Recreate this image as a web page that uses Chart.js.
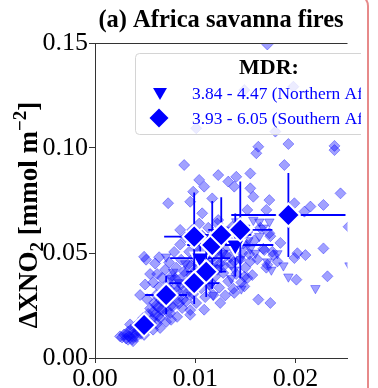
<!DOCTYPE html>
<html>
<head>
<meta charset="utf-8">
<script src="https://cdn.jsdelivr.net/npm/chart.js@4.4.1/dist/chart.umd.min.js"></script>
<style>
    html, body { margin: 0; padding: 0; background: #fff; overflow: hidden; width: 378px; height: 388px; }
    .card {
        position: absolute; left: -10px; top: -6px; width: 379px; height: 394px;
        box-sizing: border-box;
        border: 2px solid #e78a8a; border-bottom: none; border-top-right-radius: 12px;
    }
    #chart { position: absolute; left: 0; top: 0; }
</style>
</head>
<body>
<div class="card"></div>
<canvas id="chart" width="361" height="388"></canvas>
<script>
// axis ticks
const xTicks = [0.00, 0.01, 0.02];
const yTicks = [0.00, 0.05, 0.10, 0.15];

// bin means, MDR 3.84 - 4.47 (Northern Africa)
const northMeanX = [0.0105, 0.0140];
const northMeanY = [0.0476, 0.0538];
const northErrX = [0.0030, 0.0038];
const northErrY = [0.0120, 0.0150];

// bin means, MDR 3.93 - 6.05 (Southern Africa)
const southMeanX = [0.0049, 0.0071, 0.0099, 0.0111, 0.0099, 0.0117, 0.0126, 0.0145, 0.0193];
const southMeanY = [0.0157, 0.0300, 0.0357, 0.0411, 0.0578, 0.0538, 0.0586, 0.0610, 0.0681];
const southErrX = [0.0012, 0.0021, 0.0025, 0.0020, 0.0030, 0.0025, 0.0030, 0.0032, 0.0057];
const southErrY = [0.0040, 0.0090, 0.0100, 0.0120, 0.0210, 0.0210, 0.0180, 0.0230, 0.0200];

// individual fires, northern
const northPoints = [
    [0.0071,0.0482],[0.0076,0.0380],[0.0078,0.0410],[0.0084,0.0360],[0.0090,0.0450],[0.0096,0.0300],
    [0.0101,0.0520],[0.0106,0.0390],[0.0110,0.0470],[0.0115,0.0340],[0.0118,0.0300],[0.0119,0.0560],
    [0.0123,0.0430],[0.0128,0.0500],[0.0132,0.0610],[0.0136,0.0380],[0.0139,0.0420],[0.0141,0.0650],
    [0.0145,0.0470],[0.0146,0.0330],[0.0150,0.0620],[0.0153,0.0560],[0.0155,0.0520],[0.0158,0.0657],
    [0.0160,0.0500],[0.0164,0.0649],[0.0164,0.0580],[0.0168,0.0620],[0.0172,0.0459],[0.0174,0.0649],
    [0.0176,0.0420],[0.0182,0.0498],[0.0188,0.0440],[0.0193,0.0387],[0.0220,0.0332],[0.0254,0.0440]
];

// individual fires, southern
const southPoints = [
    [0.0172,0.1493],[0.0101,0.1094],[0.0149,0.1276],[0.0198,0.1292],[0.0180,0.1078],[0.0163,0.1006],
    [0.0193,0.1019],[0.0239,0.1010],[0.0161,0.0975],[0.0239,0.0990],[0.0089,0.0919],[0.0189,0.0919],
    [0.0123,0.0871],[0.0141,0.0863],[0.0155,0.0879],[0.0104,0.0848],[0.0109,0.0816],[0.0133,0.0840],
    [0.0139,0.0816],[0.0098,0.0792],[0.0155,0.0808],[0.0158,0.0768],[0.0245,0.0784],[0.0073,0.0737],
    [0.0095,0.0744],[0.0117,0.0760],[0.0174,0.0752],[0.0199,0.0737],[0.0215,0.0721],[0.0228,0.0729],
    [0.0107,0.0689],[0.0152,0.0705],[0.0171,0.0705],[0.0209,0.0697],[0.0123,0.0657],[0.0085,0.0610],
    [0.0174,0.0594],[0.0202,0.0499],[0.0228,0.0522],[0.0177,0.0506],[0.0049,0.0482],[0.0253,0.0625],
    [0.0051,0.0468],[0.0155,0.0460],[0.0172,0.0444],[0.0182,0.0460],[0.0199,0.0476],[0.0210,0.0490],
    [0.0232,0.0389],[0.0201,0.0373],[0.0163,0.0278],[0.0175,0.0262],[0.0139,0.0310],[0.0149,0.0341],
    [0.0152,0.0381],[0.0109,0.0230],[0.0125,0.0262],[0.0095,0.0206],[0.0076,0.0182],[0.0065,0.0143],
    [0.0032,0.0111],[0.0025,0.0103],[0.0038,0.0080],[0.0033,0.0087],[0.0178,0.0490],[0.0185,0.0548],
    [0.0169,0.0514],[0.0149,0.0387],
    [0.0027,0.0098],[0.0029,0.0112],[0.0031,0.0093],[0.0033,0.0125],[0.0034,0.0104],[0.0036,0.0136],
    [0.0037,0.0089],[0.0039,0.0118],[0.0040,0.0150],[0.0041,0.0100],[0.0043,0.0132],[0.0044,0.0168],
    [0.0046,0.0115],[0.0047,0.0146],[0.0048,0.0190],[0.0050,0.0127],[0.0051,0.0172],[0.0053,0.0210],
    [0.0054,0.0152],[0.0055,0.0236],[0.0057,0.0185],[0.0058,0.0135],[0.0059,0.0262],
    [0.0060,0.0205],[0.0061,0.0300],[0.0062,0.0164],[0.0063,0.0242],[0.0064,0.0338],[0.0065,0.0190],
    [0.0066,0.0275],[0.0067,0.0382],[0.0068,0.0226],[0.0069,0.0318],[0.0070,0.0420],[0.0071,0.0172],
    [0.0072,0.0262],[0.0073,0.0355],[0.0074,0.0455],[0.0075,0.0214],[0.0076,0.0296],[0.0077,0.0392],
    [0.0078,0.0248],[0.0079,0.0505],[0.0080,0.0335],[0.0081,0.0430],[0.0082,0.0196],[0.0083,0.0282],
    [0.0084,0.0372],[0.0085,0.0540],[0.0086,0.0468],[0.0087,0.0238],[0.0088,0.0318],[0.0089,0.0412],
    [0.0090,0.0575],[0.0091,0.0270],[0.0092,0.0352],[0.0093,0.0446],[0.0094,0.0506],[0.0095,0.0228],
    [0.0096,0.0395],[0.0097,0.0610],[0.0098,0.0305],[0.0099,0.0478],[0.0100,0.0545],[0.0101,0.0262],
    [0.0102,0.0425],[0.0103,0.0372],[0.0104,0.0640],[0.0105,0.0510],[0.0106,0.0332],[0.0107,0.0582],
    [0.0108,0.0455],[0.0110,0.0290],[0.0111,0.0395],[0.0112,0.0532],[0.0113,0.0620],[0.0114,0.0350],
    [0.0115,0.0470],[0.0117,0.0430],[0.0118,0.0300],[0.0119,0.0565],[0.0120,0.0388],[0.0121,0.0505],
    [0.0122,0.0640],[0.0124,0.0335],[0.0125,0.0450],[0.0126,0.0545],[0.0128,0.0405],[0.0129,0.0600],
    [0.0130,0.0298],[0.0131,0.0488],[0.0133,0.0365],[0.0134,0.0560],[0.0136,0.0445],[0.0137,0.0625],
    [0.0138,0.0330],[0.0140,0.0512],[0.0141,0.0400],[0.0143,0.0585],[0.0145,0.0470],[0.0146,0.0360],
    [0.0148,0.0545],[0.0150,0.0430],[0.0152,0.0600],[0.0154,0.0495],[0.0157,0.0395],[0.0159,0.0560],
    [0.0162,0.0470],[0.0165,0.0620],[0.0168,0.0520],[0.0171,0.0430],[0.0175,0.0580],
    [0.0035,0.0160],[0.0038,0.0100],[0.0042,0.0120],[0.0045,0.0155],[0.0049,0.0110],[0.0052,0.0140],
    [0.0056,0.0165],[0.0058,0.0220],[0.0061,0.0250],[0.0063,0.0200],[0.0066,0.0230],[0.0068,0.0270],
    [0.0070,0.0300],[0.0072,0.0220],[0.0074,0.0330],[0.0076,0.0250],[0.0078,0.0290],[0.0080,0.0380],
    [0.0082,0.0320],[0.0084,0.0260],[0.0086,0.0350],[0.0088,0.0280],[0.0090,0.0400],[0.0092,0.0310],
    [0.0094,0.0360],[0.0096,0.0440],[0.0098,0.0340],[0.0100,0.0400],[0.0102,0.0480],[0.0104,0.0350],
    [0.0106,0.0420],[0.0108,0.0380],[0.0110,0.0460],[0.0112,0.0410],[0.0114,0.0500],[0.0116,0.0360],
    [0.0118,0.0450],[0.0120,0.0520],[0.0122,0.0420],[0.0124,0.0480],[0.0127,0.0500],[0.0129,0.0440],
    [0.0132,0.0530],[0.0135,0.0480],[0.0139,0.0460],[0.0142,0.0550],[0.0147,0.0500],[0.0151,0.0540],
    [0.0045,0.0300],[0.0050,0.0350],[0.0052,0.0280],[0.0055,0.0400],[0.0058,0.0360],[0.0060,0.0450],
    [0.0062,0.0400],[0.0064,0.0480]
];

const BLUE = '#0000ff';
const FADED = 'rgba(0, 0, 255, 0.37)';
const AXIS = '#333';
const SERIF = '"Liberation Serif", "Times New Roman", serif';

function toXY(xs, ys) {
    return xs.map((x, i) => ({ x: x, y: ys[i] }));
}

// error bars are drawn just before their own markers
const errorBars = {
    id: 'errorBars',
    beforeDatasetDraw(chart, args) {
        const ds = chart.data.datasets[args.index];
        if (!ds.errX) return;
        const { ctx, chartArea: a, scales: { x, y } } = chart;
        ctx.save();
        ctx.beginPath();
        ctx.rect(a.left, a.top, a.right - a.left, a.bottom - a.top);
        ctx.clip();
        ctx.strokeStyle = BLUE;
        ctx.lineWidth = 1.8;
        ds.data.forEach((p, i) => {
            const px = x.getPixelForValue(p.x);
            const py = y.getPixelForValue(p.y);
            ctx.beginPath();
            ctx.moveTo(x.getPixelForValue(p.x - ds.errX[i]), py);
            ctx.lineTo(x.getPixelForValue(p.x + ds.errX[i]), py);
            ctx.moveTo(px, y.getPixelForValue(p.y - ds.errY[i]));
            ctx.lineTo(px, y.getPixelForValue(p.y + ds.errY[i]));
            ctx.stroke();
        });
        ctx.restore();
    }
};

function triangleDown(ctx, cx, cy, r) {
    ctx.beginPath();
    ctx.moveTo(cx, cy + r);
    ctx.lineTo(cx - r * 0.866, cy - r * 0.5);
    ctx.lineTo(cx + r * 0.866, cy - r * 0.5);
    ctx.closePath();
}

function diamond(ctx, cx, cy, r) {
    ctx.beginPath();
    ctx.moveTo(cx, cy - r);
    ctx.lineTo(cx + r, cy);
    ctx.lineTo(cx, cy + r);
    ctx.lineTo(cx - r, cy);
    ctx.closePath();
}

// title, y label, top spine and the legend box
const decorations = {
    id: 'decorations',
    afterDraw(chart) {
        const { ctx, chartArea: a } = chart;
        ctx.save();

        ctx.strokeStyle = AXIS;
        ctx.lineWidth = 1;
        ctx.beginPath();
        ctx.moveTo(a.left, a.top + 0.5);
        ctx.lineTo(a.right, a.top + 0.5);
        ctx.stroke();

        ctx.fillStyle = '#000';
        ctx.textAlign = 'center';
        ctx.textBaseline = 'alphabetic';
        ctx.font = `bold 24.5px ${SERIF}`;
        ctx.fillText('(a) Africa savanna fires', 221, 27);

        // y label with sub/superscripts
        ctx.save();
        ctx.translate(37, 215);
        ctx.rotate(-Math.PI / 2);
        ctx.textAlign = 'left';
        const big = `bold 27px ${SERIF}`;
        const small = `bold 19px ${SERIF}`;
        const parts = [['\u0394XNO', big, 0], ['2', small, 6], [' [mmol m', big, 0], ['\u22122', small, -11], [']', big, 0]];
        let total = 0;
        parts.forEach(p => { ctx.font = p[1]; total += ctx.measureText(p[0]).width; });
        let cx = -total / 2;
        parts.forEach(p => {
            ctx.font = p[1];
            ctx.fillText(p[0], cx, p[2]);
            cx += ctx.measureText(p[0]).width;
        });
        ctx.restore();

        // legend
        ctx.fillStyle = 'rgba(255, 255, 255, 0.8)';
        ctx.strokeStyle = '#d4d4d4';
        ctx.lineWidth = 1;
        ctx.beginPath();
        ctx.roundRect(135.5, 53.5, 280, 81, 4);
        ctx.fill();
        ctx.stroke();

        ctx.fillStyle = '#000';
        ctx.textAlign = 'center';
        ctx.font = `bold 22px ${SERIF}`;
        ctx.fillText('MDR:', 269, 74);

        ctx.fillStyle = BLUE;
        triangleDown(ctx, 160, 92, 8);
        ctx.fill();
        diamond(ctx, 159, 118, 9.5);
        ctx.fill();

        ctx.textAlign = 'left';
        ctx.font = `17.4px ${SERIF}`;
        ctx.fillText('3.84 - 4.47 (Northern Africa)', 192, 99);
        ctx.fillText('3.93 - 6.05 (Southern Africa)', 192, 124);

        ctx.restore();
    }
};

const tickFont = { family: SERIF, size: 26 };

new Chart(document.getElementById('chart'), {
    type: 'scatter',
    data: {
        datasets: [
            {
                label: 'Southern Africa mean',
                data: toXY(southMeanX, southMeanY),
                errX: southErrX, errY: southErrY,
                pointStyle: 'rectRot', pointRadius: 11.5,
                backgroundColor: BLUE, borderColor: '#fff', borderWidth: 2,
                clip: 0
            },
            {
                label: 'Northern Africa mean',
                data: toXY(northMeanX, northMeanY),
                errX: northErrX, errY: northErrY,
                pointStyle: 'triangle', rotation: 180, pointRadius: 11,
                backgroundColor: BLUE, borderColor: '#fff', borderWidth: 2,
                clip: 0
            },
            {
                label: 'Northern Africa',
                data: northPoints.map(p => ({ x: p[0], y: p[1] })),
                pointStyle: 'triangle', rotation: 180, pointRadius: 5.5,
                backgroundColor: FADED, borderColor: FADED, borderWidth: 1,
                clip: 0
            },
            {
                label: 'Southern Africa',
                data: southPoints.map(p => ({ x: p[0], y: p[1] })),
                pointStyle: 'rectRot', pointRadius: 5.5,
                backgroundColor: FADED, borderColor: FADED, borderWidth: 1,
                clip: 0
            }
        ]
    },
    options: {
        responsive: false,
        animation: false,
        events: [],
        layout: { padding: { top: 43, right: 0, left: 0, bottom: 0 } },
        plugins: { legend: { display: false }, tooltip: { enabled: false } },
        scales: {
            x: {
                type: 'linear', min: 0, max: 0.0252,
                afterBuildTicks: s => { s.ticks = xTicks.map(v => ({ value: v })); },
                afterFit: s => { s.height = 30; },
                ticks: { font: tickFont, color: '#000', padding: 1, maxRotation: 0, autoSkip: false,
                         callback: v => v.toFixed(2) },
                grid: { drawOnChartArea: false, tickLength: 5, color: AXIS },
                border: { color: AXIS, width: 1 }
            },
            y: {
                type: 'linear', min: 0, max: 0.15,
                afterBuildTicks: s => { s.ticks = yTicks.map(v => ({ value: v })); },
                afterFit: s => { s.width = 95; },
                ticks: { font: tickFont, color: '#000', padding: 1, autoSkip: false,
                         callback: v => v.toFixed(2) },
                grid: { drawOnChartArea: false, tickLength: 6, color: AXIS },
                border: { color: AXIS, width: 1 }
            }
        }
    },
    plugins: [errorBars, decorations]
});
</script>
</body>
</html>
